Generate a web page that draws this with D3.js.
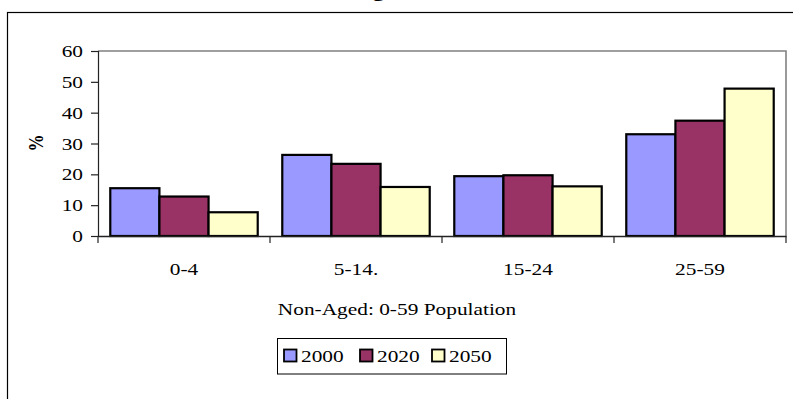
<!DOCTYPE html>
<html>
<head>
<meta charset="utf-8">
<script src="https://cdn.jsdelivr.net/npm/d3@7"></script>
<style>
  html, body { margin: 0; padding: 0; background: #fff; }
  svg { display: block; }
  text { font-family: "Liberation Serif", "Times New Roman", serif; fill: #000; }
</style>
</head>
<body>
<svg id="chart" width="793" height="399"></svg>
<script>
// Age groups on the category axis
const categories = ["0-4", "5-14.", "15-24", "25-59"];
// Series: share of the 0-59 population (%) by year
const years = ["2000", "2020", "2050"];
const share2000 = [15.5, 26.3, 19.4, 33.0];
const share2020 = [12.8, 23.4, 19.7, 37.4];
const share2050 = [7.7, 15.9, 16.1, 47.8];
const seriesValues = [share2000, share2020, share2050];
// Value axis ticks
const yTicks = [0, 10, 20, 30, 40, 50, 60];

const colors = ["#9999FF", "#993366", "#FFFFCC"];
const svg = d3.select("#chart");
const sx = 1.22; // horizontal stretch of the lettering
const fs = 17.5;

// text helper: stretched horizontally around its anchor
function label(g, str, x, y, anchor, size, weight) {
  return g.append("text")
    .attr("transform", `translate(${x},${y}) scale(${sx},1)`)
    .attr("text-anchor", anchor || "middle")
    .style("font-size", (size || fs) + "px")
    .style("font-weight", weight || "normal")
    .text(str);
}

// outer chart frame (runs past the right and bottom edges)
svg.append("rect")
  .attr("x", 7.5).attr("y", 12.5).attr("width", 900).attr("height", 500)
  .attr("fill", "none").attr("stroke", "#000").attr("stroke-width", 1.2);

// chart title, sitting above the frame
label(svg, "Age Distribution", 355, -4, "start", 20, "bold");

const plot = { left: 98, right: 786, top: 51, bottom: 236 };

const x = d3.scaleBand().domain(categories).range([plot.left, plot.right]).paddingInner(0).paddingOuter(0);
const bandPad = 0.333;
const xs = d3.scaleBand().domain(years)
  .range([0, x.bandwidth()]).paddingInner(0).paddingOuter(bandPad * 0.75);
const y = d3.scaleLinear().domain([0, 60]).range([plot.bottom, plot.top]);

// plot area frame: grey top and right edges
svg.append("path")
  .attr("d", `M${plot.left},${plot.top}H${plot.right}V${plot.bottom}`)
  .attr("fill", "none").attr("stroke", "#808080").attr("stroke-width", 1.6);

// bars
seriesValues.forEach((vals, si) => {
  svg.append("g").selectAll("rect").data(vals).join("rect")
    .attr("x", (d, i) => x(categories[i]) + xs(years[si]))
    .attr("y", d => y(d))
    .attr("width", xs.bandwidth())
    .attr("height", d => y(0) - y(d))
    .attr("fill", colors[si])
    .attr("stroke", "#000").attr("stroke-width", 2.2);
});

// value axis
const yAxis = svg.append("g").attr("transform", `translate(${plot.left},0)`)
  .call(d3.axisLeft(y).tickValues(yTicks).tickSize(7).tickPadding(0).tickFormat(d3.format("d")));
yAxis.select(".domain").attr("stroke", "#222").attr("stroke-width", 1.2);
yAxis.selectAll(".tick line").attr("stroke", "#222").attr("stroke-width", 1.2);
yAxis.selectAll(".tick text").remove();
yTicks.forEach(t => label(svg, String(t), 83, y(t) + 6, "end"));

// category axis
const xAxis = svg.append("g").attr("transform", `translate(0,${plot.bottom})`)
  .call(d3.axisBottom(x).tickSize(0).tickFormat(""));
xAxis.select(".domain").attr("stroke", "#222").attr("stroke-width", 1.4);
const edges = categories.map(c => x(c)).concat([plot.right]);
xAxis.selectAll("line.edge").data(edges).join("line").attr("class", "edge")
  .attr("x1", d => d).attr("x2", d => d).attr("y1", 0).attr("y2", 7)
  .attr("stroke", "#222").attr("stroke-width", 1.2);
categories.forEach(c => label(svg, c, x(c) + x.bandwidth() / 2, 275));

// axis titles
svg.append("text")
  .attr("transform", `translate(43,143) rotate(-90) scale(1,${sx})`)
  .attr("text-anchor", "middle")
  .style("font-size", "17px").style("font-weight", "bold")
  .text("%");
label(svg, "Non-Aged: 0-59 Population", 397, 315);

// legend
const lg = svg.append("g");
lg.append("rect").attr("x", 277.5).attr("y", 338.5).attr("width", 229).attr("height", 35.5)
  .attr("fill", "#fff").attr("stroke", "#000").attr("stroke-width", 1);
const legX = [284, 360, 432];
years.forEach((yr, i) => {
  lg.append("rect").attr("x", legX[i]).attr("y", 349.5).attr("width", 12.5).attr("height", 12)
    .attr("fill", colors[i]).attr("stroke", "#000").attr("stroke-width", 1.8);
  label(lg, yr, legX[i] + 17, 362, "start");
});
</script>
</body>
</html>
